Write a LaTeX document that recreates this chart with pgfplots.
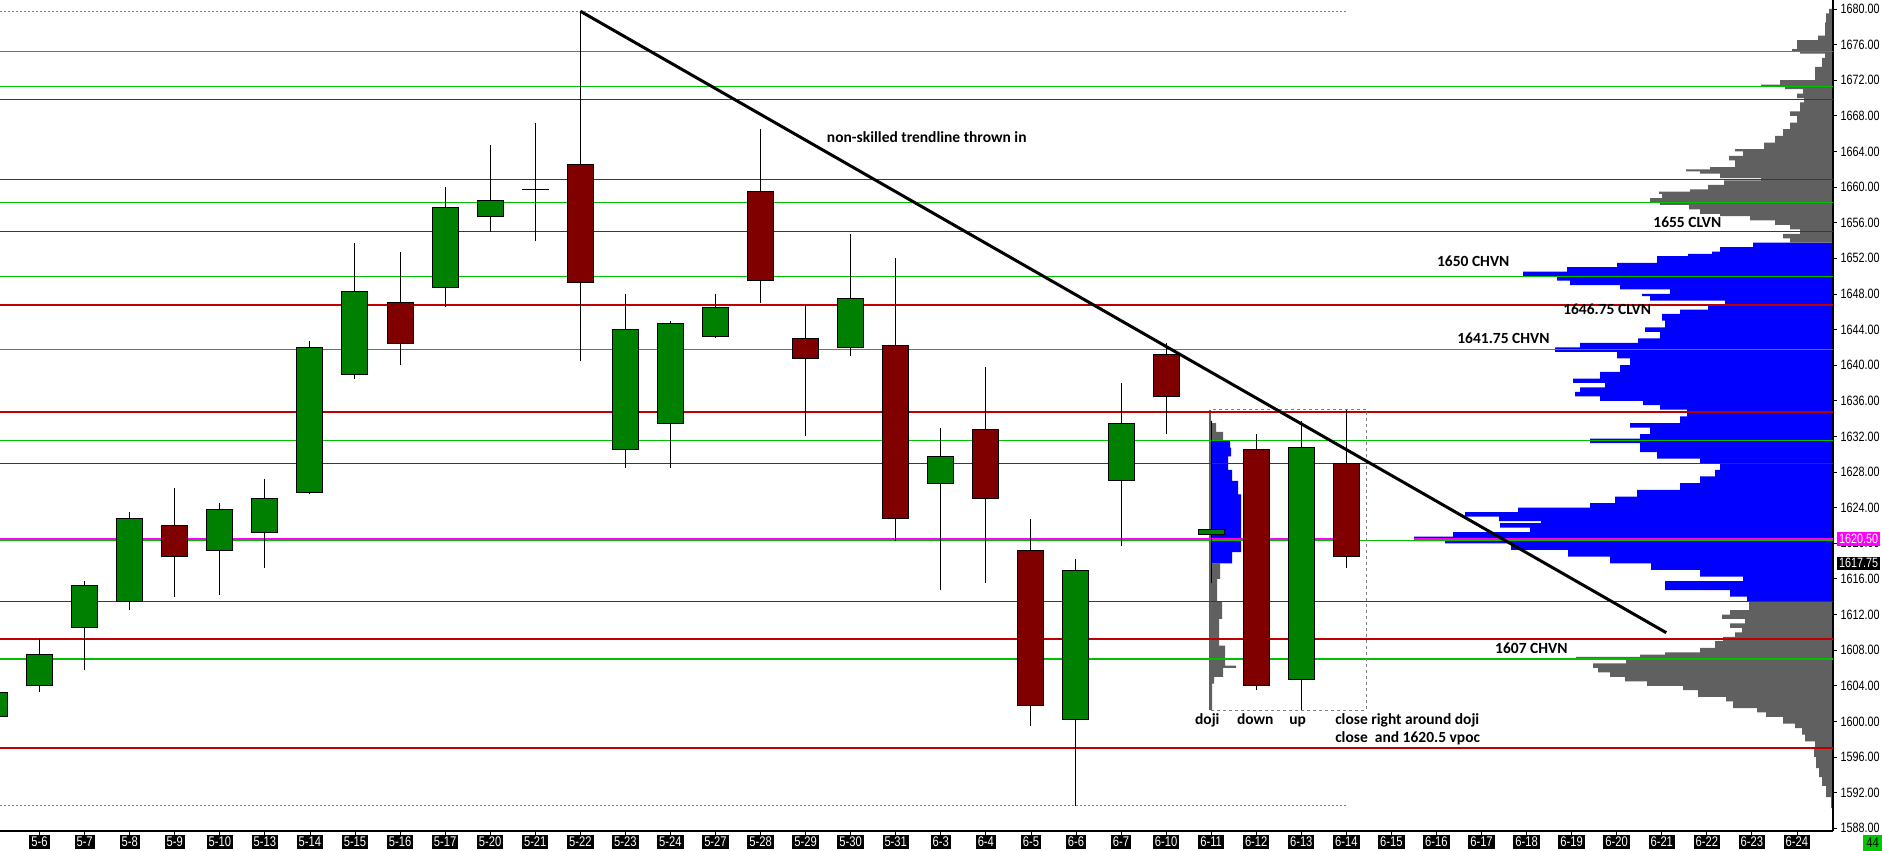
\documentclass[border=0pt]{standalone}
\usepackage{fontspec}
\usepackage{pgfplots}
\usepackage{pgfplotstable}
\pgfplotsset{compat=1.18}
\newfontfamily\tickfont[FakeStretch=0.8]{Liberation Sans}
\newfontfamily\notefont{Carlito}
\newcommand\ticksize{\tickfont\fontsize{13.5}{14}\selectfont}
\newcommand\dateticksize{\tickfont\fontsize{14}{14}\selectfont}
\newcommand\notesize{\notefont\bfseries\fontsize{15.5}{17}\selectfont}
\definecolor{cgreen}{RGB}{0,128,0}
\definecolor{cred}{RGB}{128,0,0}
\definecolor{lgreen}{RGB}{0,192,0}
\definecolor{lred}{RGB}{192,0,0}
\definecolor{pblue}{RGB}{0,0,255}
\definecolor{pgray}{RGB}{96,96,96}
\definecolor{mag}{RGB}{255,0,255}
\definecolor{boxgreen}{RGB}{0,200,0}

\pgfplotstableread{
i O H L C
0 1600.5 1603.5 1600.25 1603.25
1 1604 1609.25 1603.25 1607.5
2 1610.5 1615.75 1605.75 1615.25
3 1613.5 1623.5 1612.5 1622.75
5 1619.25 1624.5 1614.25 1623.75
6 1621.25 1627.25 1617.25 1625
7 1625.75 1642.75 1625.5 1642
8 1639 1653.75 1638.5 1648.25
10 1648.75 1660 1646.5 1657.75
11 1656.75 1664.75 1655 1658.5
12 1659.75 1667.25 1654 1659.75
14 1630.5 1648 1628.5 1644
15 1633.5 1645 1628.5 1644.75
16 1643.25 1648 1643 1646.5
19 1642 1654.75 1641 1647.5
21 1626.75 1633 1614.75 1629.75
24 1600.25 1618.25 1590.5 1617
25 1627 1638 1619.75 1633.5
27 1621 1633.75 1615.5 1621.5
29 1604.75 1633.75 1601.25 1630.75
}\upcandles

\pgfplotstableread{
i O H L C
4 1622 1626.25 1614 1618.5
9 1647 1652.75 1640 1642.5
13 1662.5 1679.75 1640.5 1649.25
17 1659.5 1666.5 1647 1649.5
18 1643 1646.75 1632 1640.75
20 1642.25 1652 1620.25 1622.75
22 1632.75 1639.75 1615.5 1625
23 1619.25 1622.75 1599.5 1601.75
26 1641.25 1642.5 1632.25 1636.5
28 1630.5 1632.25 1603.5 1604
30 1629 1635 1617.25 1618.5
}\downcandles

\pgfplotsset{
  wick/.style={draw=none, mark=none, forget plot,
    error bars/.cd, y dir=both, y explicit, error mark=none,
    error bar style={draw=black, solid, line width=1pt}},
  bodyout/.style={draw=none, mark=none, forget plot,
    error bars/.cd, y dir=both, y explicit, error mark=none,
    error bar style={draw=black, solid, line width=27pt}},
  bodyin/.style={draw=none, mark=none, forget plot,
    error bars/.cd, y dir=both, y explicit, error mark=none,
    error bar style={draw=#1, solid, line width=25pt}},
}

\begin{document}
\begin{tikzpicture}
% ---------- volume profiles (x in pixels) ----------
\begin{axis}[
  at={(0pt,20pt)}, anchor=south west,
  scale only axis, width=1833pt, height=831pt,
  xmin=0, xmax=1833, ymin=1587.69, ymax=1681.01,
  hide axis,
]
% main profile, lower gray
\addplot[fill=pgray, draw=none, const plot mark right] coordinates {
(1831,1590.25) (1826,1591.5) (1822,1592.75) (1819,1593.75) (1816,1594.75) (1814,1596) (1815,1597) (1805,1597.75) (1802,1598.5) (1795,1599.25) (1783,1599.75) (1766,1600.5) (1757,1601) (1733,1601.5) (1726,1602.25) (1698,1602.75) (1683,1603.5) (1647,1604) (1625,1604.5) (1610,1605) (1598,1605.5) (1593,1606) (1626,1606.5) (1576,1607) (1640,1607.25) (1665,1607.5) (1700,1607.75) (1715,1608.25) (1723,1609) (1735,1609.5) (1742,1610) (1730,1610.5) (1745,1611) (1722,1611.5) (1730,1612) (1749,1612.5) (1833,1613.5)
} -- (axis cs:1833,1590.25) -- cycle;
% main profile, value area (blue)
\addplot[fill=pblue, draw=none, const plot mark right] coordinates {
(1747,1613.5) (1730,1614) (1665,1614.75) (1743,1615.75) (1700,1616.25) (1651,1617) (1610,1617.75) (1568,1618.5) (1511,1619.25) (1445,1620) (1414,1620.25) (1453,1620.75) (1530,1621.25) (1500,1621.75) (1541,1622.25) (1499,1622.5) (1465,1623) (1518,1623.5) (1590,1624) (1615,1624.5) (1637,1625.25) (1680,1626) (1700,1626.75) (1715,1627.5) (1720,1628.25) (1700,1629) (1657,1629.5) (1640,1630.25) (1590,1631.25) (1640,1631.75) (1650,1632.25) (1630,1633) (1680,1633.5) (1687,1634.25) (1660,1635) (1643,1635.5) (1600,1636) (1575,1636.5) (1580,1637) (1605,1637.5) (1573,1638) (1600,1638.5) (1620,1639.25) (1630,1640) (1617,1640.75) (1555,1641.5) (1580,1642) (1638,1642.5) (1660,1643) (1645,1643.75) (1665,1644.25) (1662,1645) (1680,1645.75) (1708,1646.25) (1725,1646.75) (1650,1647.25) (1642,1647.75) (1670,1648) (1620,1648.5) (1570,1649) (1557,1649.5) (1523,1650) (1567,1650.5) (1617,1651) (1657,1651.5) (1688,1652.25) (1712,1652.5) (1720,1652.75) (1753,1653.25) (1833,1653.75)
} -- (axis cs:1833,1613.5) -- cycle;
% main profile, upper gray
\addplot[fill=pgray, draw=none, const plot mark right] coordinates {
(1790,1653.75) (1783,1654.25) (1800,1654.75) (1790,1655.25) (1775,1655.75) (1750,1656.25) (1720,1656.75) (1700,1657) (1689,1657.5) (1660,1658) (1650,1658.25) (1662,1658.75) (1659,1659.25) (1690,1659.5) (1708,1659.75) (1724,1660.25) (1761,1660.75) (1720,1661) (1700,1661.5) (1686,1661.75) (1710,1662) (1735,1662.25) (1729,1663) (1743,1663.5) (1735,1664) (1764,1664.25) (1775,1665) (1783,1665.75) (1790,1666.5) (1797,1667.25) (1790,1668) (1800,1668.5) (1804,1669.5) (1797,1670) (1803,1670.5) (1785,1671) (1761,1671.25) (1780,1671.5) (1815,1672) (1822,1673.5) (1825,1674.5) (1800,1675) (1792,1675.25) (1797,1675.5) (1818,1676.5) (1825,1677) (1826,1678.5) (1829,1679.5) (1833,1680)
} -- (axis cs:1833,1653.75) -- cycle;
% small profile at 6-11
\addplot[fill=pgray, draw=none, const plot mark right] coordinates {
(1212,1601.25) (1214,1604.25) (1223,1605) (1236,1606) (1225,1606.25) (1219,1608.5) (1222,1611.5) (1217,1613.5) (1220,1616) (1210,1617.75)
} -- (axis cs:1210,1601.25) -- cycle;
\addplot[fill=pblue, draw=none, const plot mark right] coordinates {
(1232,1617.75) (1241,1619) (1238,1625.5) (1232,1627) (1228,1628.25) (1231,1629.75) (1230,1630.75) (1210,1631.5)
} -- (axis cs:1210,1617.75) -- cycle;
\addplot[fill=pgray, draw=none, const plot mark right] coordinates {
(1223,1631.5) (1216,1632.5) (1212,1633.5) (1210,1633.75)
} -- (axis cs:1210,1631.5) -- cycle;
\addplot[pgray, line width=1.5pt] coordinates {(1210,1601.25) (1210,1635)};
\end{axis}

% ---------- main chart (x = trading day index) ----------
\begin{axis}[
  at={(0pt,20pt)}, anchor=south west,
  scale only axis, width=1833pt, height=831pt,
  xmin=0.1221, xmax=40.80, ymin=1587.69, ymax=1681.01,
  axis x line*=bottom, axis y line*=right,
  axis line style={black, line width=1.2pt},
  clip mode=individual,
  xtick={1,...,40},
  xticklabels={5-6,5-7,5-8,5-9,5-10,5-13,5-14,5-15,5-16,5-17,5-20,5-21,5-22,5-23,5-24,5-27,5-28,5-29,5-30,5-31,6-3,6-4,6-5,6-6,6-7,6-10,6-11,6-12,6-13,6-14,6-15,6-16,6-17,6-18,6-19,6-20,6-21,6-22,6-23,6-24},
  ytick={1588,1592,...,1680},
  tick align=outside, major tick length=4pt,
  tick style={black, line width=0.8pt},
  xticklabel style={fill=black, text=white, font=\dateticksize, inner sep=2pt},
  yticklabel style={font=\ticksize, text=black},
  /pgf/number format/fixed, /pgf/number format/fixed zerofill,
  /pgf/number format/precision=2, /pgf/number format/1000 sep={},
  /pgf/number format/assume math mode=true,
]
% level lines
\pgfplotsinvokeforeach{1669.85,1660.85,1655,1646.75,1634.75,1629,1613.5,1609.25,1597}{
  \addplot[lred, line width=1.2pt, forget plot] coordinates {(0.1221,#1) (40.8,#1)};
}
\pgfplotsinvokeforeach{1675.25,1671.25,1658.25,1650,1641.75,1631.5,1620.3,1607}{
  \addplot[lgreen, line width=1.2pt, forget plot] coordinates {(0.1221,#1) (40.8,#1)};
}
\addplot[mag, line width=2pt, forget plot] coordinates {(0.1221,1620.5) (30.24,1620.5)};
\addplot[mag, line width=2pt, forget plot] coordinates {(31.5,1620.5) (40.8,1620.5)};
% dotted range lines and box
\addplot[gray, line width=1pt, dash pattern=on 2pt off 2pt, forget plot] coordinates {(0.1221,1679.75) (30,1679.75)};
\addplot[gray, line width=1pt, dash pattern=on 2pt off 2pt, forget plot] coordinates {(0.1221,1590.5) (30,1590.5)};
\addplot[gray, line width=1pt, dash pattern=on 3pt off 3pt, forget plot] coordinates {(27,1601.25) (30.44,1601.25) (30.44,1635) (27,1635)};
% candles
\addplot[wick] table[x=i, y expr={(\thisrow{H}+\thisrow{L})/2}, y error expr={(\thisrow{H}-\thisrow{L})/2}] {\upcandles};
\addplot[wick] table[x=i, y expr={(\thisrow{H}+\thisrow{L})/2}, y error expr={(\thisrow{H}-\thisrow{L})/2}] {\downcandles};
\addplot[bodyout] table[x=i, y expr={(\thisrow{O}+\thisrow{C})/2}, y error expr={abs(\thisrow{C}-\thisrow{O})/2+0.056}] {\upcandles};
\addplot[bodyout] table[x=i, y expr={(\thisrow{O}+\thisrow{C})/2}, y error expr={abs(\thisrow{C}-\thisrow{O})/2+0.056}] {\downcandles};
\addplot[bodyin=cgreen] table[x=i, y expr={(\thisrow{O}+\thisrow{C})/2}, y error expr={max(abs(\thisrow{C}-\thisrow{O})/2-0.056,0)}] {\upcandles};
\addplot[bodyin=cred] table[x=i, y expr={(\thisrow{O}+\thisrow{C})/2}, y error expr={max(abs(\thisrow{C}-\thisrow{O})/2-0.056,0)}] {\downcandles};
% trendline
\addplot[black, line width=3pt, forget plot] coordinates {(13,1679.75) (37.1,1609.96)};
% annotations
\node[font=\notesize, anchor=mid west, inner sep=0pt] at (axis cs:18.47,1665.26) {non-skilled trendline thrown in};
\node[font=\notesize, anchor=mid west, inner sep=0pt] at (axis cs:36.81,1655.74) {1655 CLVN};
\node[font=\notesize, anchor=mid west, inner sep=0pt] at (axis cs:32.01,1651.36) {1650 CHVN};
\node[font=\notesize, anchor=mid west, inner sep=0pt] at (axis cs:34.81,1645.97) {1646.75 CLVN};
\node[font=\notesize, anchor=mid west, inner sep=0pt] at (axis cs:32.46,1642.72) {1641.75 CHVN};
\node[font=\notesize, anchor=mid west, inner sep=0pt] at (axis cs:33.30,1607.9) {1607 CHVN};
\node[font=\notesize, anchor=mid west, inner sep=0pt] at (axis cs:26.64,1599.93) {doji};
\node[font=\notesize, anchor=mid west, inner sep=0pt] at (axis cs:27.57,1599.93) {down};
\node[font=\notesize, anchor=mid west, inner sep=0pt] at (axis cs:28.73,1599.93) {up};
\node[font=\notesize, anchor=mid west, inner sep=0pt] at (axis cs:29.75,1599.93) {close right around doji};
\node[font=\notesize, anchor=mid west, inner sep=0pt] at (axis cs:29.75,1597.91) {close\ \ and 1620.5 vpoc};
% price boxes on the axis
\node[fill=mag, text=white, font=\ticksize, inner sep=2pt, anchor=west, xshift=4pt] at (axis cs:40.8,1620.5) {1620.50};
\node[fill=black, text=white, font=\ticksize, inner sep=2pt, anchor=west, xshift=4pt] at (axis cs:40.8,1617.75) {1617.75};
\node[fill=boxgreen, text=black, font=\dateticksize, inner xsep=3pt, inner ysep=3pt, anchor=north east, xshift=49pt, yshift=-4pt] at (axis cs:40.8,1587.69) {44};
\end{axis}
\pgfresetboundingbox
\path[use as bounding box] (0pt,0pt) rectangle (1882pt,851pt);
\end{tikzpicture}
\end{document}
